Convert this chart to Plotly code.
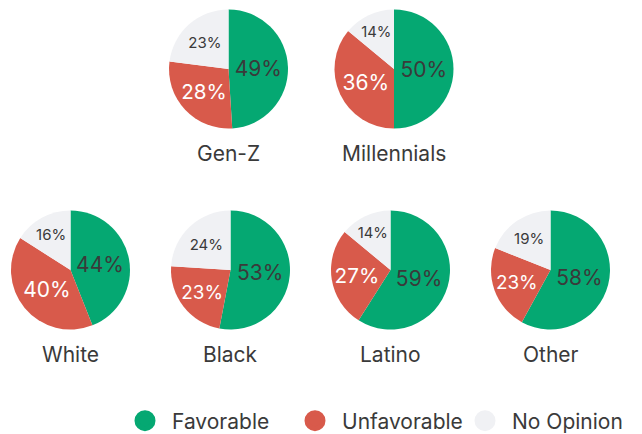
import plotly.graph_objects as go

# ---- data ----
categories = ["Favorable", "Unfavorable", "No Opinion"]
groups = ["Gen-Z", "Millennials", "White", "Black", "Latino", "Other"]
favorable = [49, 50, 44, 53, 59, 58]
unfavorable = [28, 36, 40, 23, 27, 23]
no_opinion = [23, 14, 16, 24, 14, 19]

# ---- style ----
W, H = 642, 434
colors = ["#05a872", "#d85a4b", "#f0f1f4"]
text_dark = "#3a3a3a"
FONT = "Inter"
# pie centres / radius in pixels (layout only)
centers = [(228.5, 69), (394, 69), (70.5, 270), (230.5, 270), (390.5, 270), (550.5, 270)]
R = 59.5
LABEL_OFFSET = 84  # px from pie centre to group label centre

fig = go.Figure()
for i, g in enumerate(groups):
    cx, cy = centers[i]
    vals = [favorable[i], unfavorable[i], no_opinion[i]]
    fig.add_trace(go.Pie(
        labels=categories,
        values=vals,
        sort=False,
        direction="clockwise",
        rotation=0,
        marker=dict(colors=colors, line=dict(width=0)),
        texttemplate="%{value}%",
        textposition="inside",
        insidetextorientation="horizontal",
        textfont=dict(family=FONT, size=[21, 21, 15], color=[text_dark, "white", text_dark]),
        hoverinfo="label+value",
        showlegend=False,
        domain=dict(x=[(cx - R) / W, (cx + R) / W], y=[1 - (cy + R) / H, 1 - (cy - R) / H]),
    ))
    fig.add_annotation(
        text=g, x=cx / W, y=1 - (cy + LABEL_OFFSET) / H, xref="paper", yref="paper",
        xanchor="center", yanchor="middle", showarrow=False,
        font=dict(family=FONT, size=21, color=text_dark),
    )

# legend entries with circle symbols
for c, col in zip(categories, colors):
    fig.add_trace(go.Scatter(
        x=[None], y=[None], mode="markers", name=c,
        marker=dict(symbol="circle", size=16, color=col, line=dict(color=col, width=5)),
        showlegend=True,
    ))

fig.update_layout(
    width=W, height=H,
    margin=dict(l=0, r=0, t=0, b=0, autoexpand=False),
    paper_bgcolor="white", plot_bgcolor="white",
    xaxis=dict(visible=False), yaxis=dict(visible=False),
    font=dict(family=FONT, color=text_dark),
    legend=dict(
        orientation="h", x=118 / W, xanchor="left", y=1 - 421 / H, yanchor="middle",
        font=dict(family=FONT, size=21, color=text_dark),
        itemwidth=44,
        entrywidth=111, entrywidthmode="pixels",
        bgcolor="rgba(0,0,0,0)",
    ),
)

fig.write_html("out.html", config={"displayModeBar": False},
               post_script="document.body.style.margin='0';")
